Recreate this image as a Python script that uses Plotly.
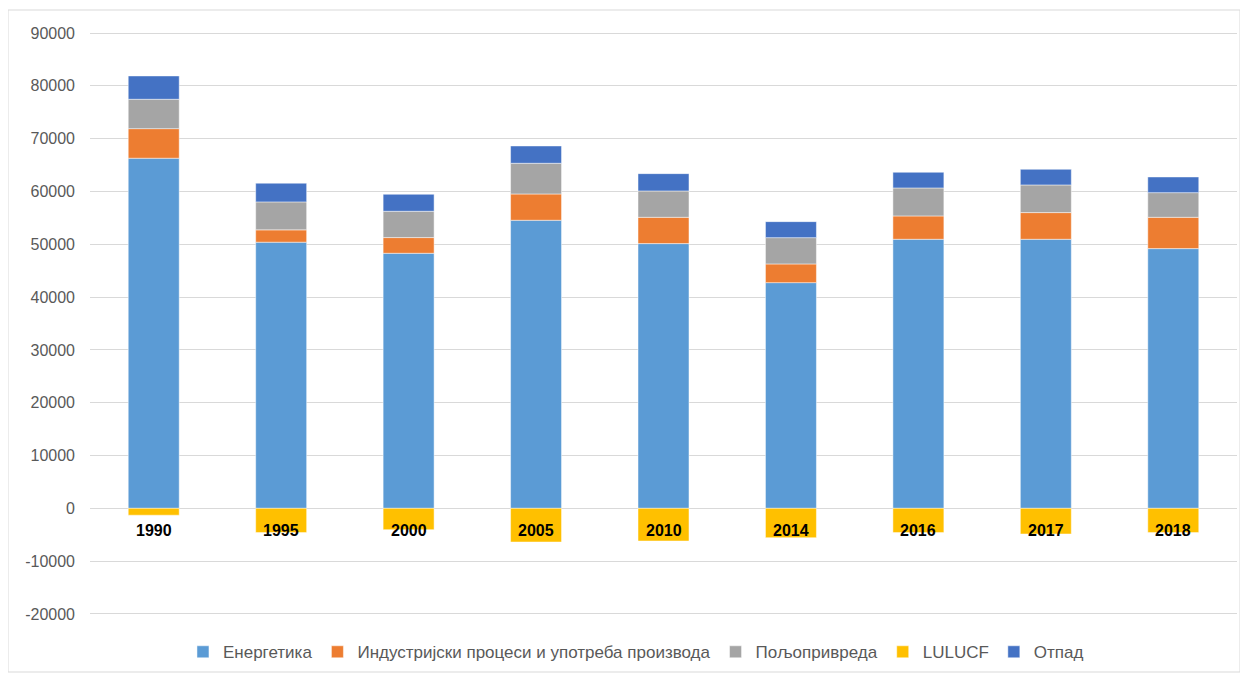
import plotly.graph_objects as go

years = ["1990", "1995", "2000", "2005", "2010", "2014", "2016", "2017", "2018"]
energetika = [66300, 50400, 48300, 54550, 50130, 42740, 50950, 50950, 49180]
industrija = [5600, 2330, 2970, 4980, 4980, 3540, 4420, 5050, 5930]
poljoprivreda = [5560, 5300, 4980, 5810, 4990, 4980, 5300, 5240, 4670]
lulucf = [-1300, -4600, -4040, -6380, -6190, -5560, -4600, -4860, -4600]
otpad = [4420, 3540, 3220, 3280, 3280, 3030, 2970, 2960, 2970]

y_tick_vals = [-20000, -10000, 0, 10000, 20000, 30000, 40000, 50000, 60000, 70000, 80000, 90000]
y_tick_text = ["-20000", "-10000", "0", "10000", "20000", "30000", "40000", "50000",
               "60000", "70000", "80000", "90000"]

series = [
    ("Енергетика", energetika, "#5B9BD5"),
    ("Индустријски процеси и употреба производа", industrija, "#ED7D31"),
    ("Пољопривреда", poljoprivreda, "#A5A5A5"),
    ("LULUCF", lulucf, "#FFC000"),
    ("Отпад", otpad, "#4472C4"),
]

FONT = "Liberation Sans"
fig = go.Figure()
for name, vals, color in series:
    fig.add_trace(go.Bar(
        x=years, y=vals, name=name,
        marker=dict(color=color, line=dict(color="rgba(255,255,255,0.6)", width=0.8)),
    ))

# category labels sit on the zero line; on a category axis annotation x is the category index
for i, yr in enumerate(years):
    fig.add_annotation(x=i, y=0, xref="x", yref="y", text="<b>%s</b>" % yr,
                       showarrow=False, yanchor="top", yshift=-12,
                       font=dict(family=FONT, size=16, color="#000000"))

# page body has an 8px margin, so figure coords = reference coords - 8
L, T = 82, 24
PW, PH = 1147, 583
# outer chart border (reference: x 8..1240, y 10..672)
fig.add_shape(type="rect", xref="paper", yref="paper",
              x0=(0 - L) / PW, x1=(1232 - L) / PW,
              y0=(T + PH - 664) / PH, y1=(T + PH - 2) / PH,
              line=dict(color="#D9D9D9", width=1), fillcolor="rgba(0,0,0,0)", layer="below")

fig.update_layout(
    barmode="relative",
    bargap=0.6,
    width=1240, height=671,
    margin=dict(l=L, r=1240 - L - PW, t=T, b=671 - T - PH, autoexpand=False),
    paper_bgcolor="white", plot_bgcolor="white",
    font=dict(family=FONT, size=16, color="#595959"),
    legend=dict(orientation="h", x=0.476, xanchor="center", y=-0.033, yanchor="top",
                font=dict(family=FONT, size=17, color="#595959"),
                itemwidth=30, traceorder="normal"),
    xaxis=dict(type="category", range=[-0.5, len(years) - 0.5], showticklabels=False,
               showgrid=False, zeroline=False, showline=False, ticks=""),
    yaxis=dict(range=[-20200, 90200], tickmode="array", tickvals=y_tick_vals, ticktext=y_tick_text,
               showgrid=True, gridcolor="#D9D9D9",
               gridwidth=1, zeroline=True, zerolinecolor="#D9D9D9", zerolinewidth=1,
               showline=False, ticks="", ticklabelstandoff=14,
               tickfont=dict(family=FONT, size=16, color="#595959")),
)

fig.write_html("out.html")
